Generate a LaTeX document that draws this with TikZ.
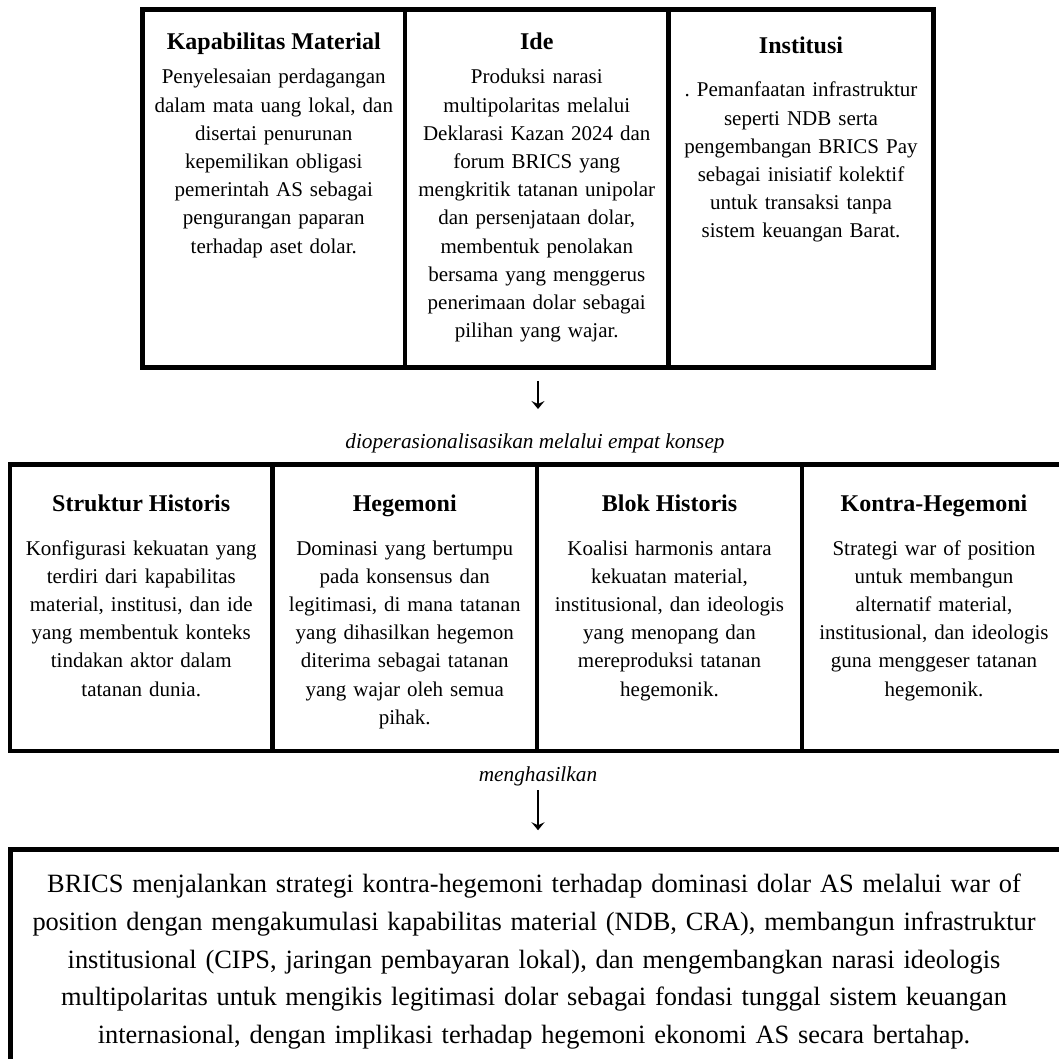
\documentclass[tikz,border=0pt]{standalone}
\usepackage{fontspec}
\setmainfont{Liberation Serif}
\usetikzlibrary{arrows.meta}
\frenchspacing
\begin{document}
\begin{tikzpicture}[x=1pt,y=-1pt,
  cell/.style={draw, line width=4.5pt, inner sep=0pt, minimum height=#1},
  ttl/.style={anchor=base, inner sep=0pt, font=\fontsize{24}{28}\selectfont\bfseries},
  body/.style={anchor=base, inner sep=0pt, text width=300pt, align=center, font=\fontsize{21}{28.2}\selectfont\frenchspacing},
  lab/.style={anchor=base, inner sep=0pt, font=\fontsize{21.3}{24}\selectfont\itshape},
  arr/.style={line width=1.3pt, -{Stealth[length=8pt,width=13pt,inset=3pt]}}]
\useasboundingbox (0,0) rectangle (1059,1059);
\clip (0,0) rectangle (1059,1059);
% top row
\node[cell=358pt, minimum width=262.5pt] (kap) at (273.75,188.5) {};
\node[cell=358pt, minimum width=263.5pt] (ide) at (536.75,188.5) {};
\node[cell=358pt, minimum width=265pt] (ins) at (801,188.5) {};
\node[ttl] (kapt) at (273.75,49.5) {Kapabilitas Material};
\node[body] (kapb) at (273.75,84) {Penyelesaian perdagangan\\ dalam mata uang lokal, dan\\ disertai penurunan\\ kepemilikan obligasi\\ pemerintah AS sebagai\\ pengurangan paparan\\ terhadap aset dolar.};
\node[ttl] (idet) at (536.75,49.5) {Ide};
\node[body] (ideb) at (536.75,84) {Produksi narasi\\ multipolaritas melalui\\ Deklarasi Kazan 2024 dan\\ forum BRICS yang\\ mengkritik tatanan unipolar\\ dan persenjataan dolar,\\ membentuk penolakan\\ bersama yang menggerus\\ penerimaan dolar sebagai\\ pilihan yang wajar.};
\node[ttl] (inst) at (801,53.5) {Institusi};
\node[body] (insb) at (801,97) {. Pemanfaatan infrastruktur\\ seperti NDB serta\\ pengembangan BRICS Pay\\ sebagai inisiatif kolektif\\ untuk transaksi tanpa\\ sistem keuangan Barat.};
% label 1
\node[lab] (lab1) at (535,448) {dioperasionalisasikan melalui empat konsep};
% middle row
\node[cell=286.5pt, minimum width=262.5pt] (sh) at (141.25,607.75) {};
\node[cell=286.5pt, minimum width=264.5pt] (heg) at (404.75,607.75) {};
\node[cell=286.5pt, minimum width=265pt] (bh) at (669.5,607.75) {};
\node[cell=286.5pt, minimum width=264pt] (kh) at (934,607.75) {};
\node[ttl] (sht) at (141.25,511) {Struktur Historis};
\node[body] (shb) at (141.25,555) {Konfigurasi kekuatan yang\\ terdiri dari kapabilitas\\ material, institusi, dan ide\\ yang membentuk konteks\\ tindakan aktor dalam\\ tatanan dunia.};
\node[ttl] (hegt) at (404.75,511) {Hegemoni};
\node[body] (hegb) at (404.75,555) {Dominasi yang bertumpu\\ pada konsensus dan\\ legitimasi, di mana tatanan\\ yang dihasilkan hegemon\\ diterima sebagai tatanan\\ yang wajar oleh semua\\ pihak.};
\node[ttl] (bht) at (669.5,511) {Blok Historis};
\node[body] (bhb) at (669.5,555) {Koalisi harmonis antara\\ kekuatan material,\\ institusional, dan ideologis\\ yang menopang dan\\ mereproduksi tatanan\\ hegemonik.};
\node[ttl] (kht) at (934,511) {Kontra-Hegemoni};
\node[body] (khb) at (934,555) {Strategi war of position\\ untuk membangun\\ alternatif material,\\ institusional, dan ideologis\\ guna menggeser tatanan\\ hegemonik.};
% label 2
\node[lab] (lab2) at (538,781) {menghasilkan};
% bottom box
\node[cell=260pt, minimum width=1060pt] (res) at (540.5,979.5) {};
\node[anchor=base, inner sep=0pt, text width=1040pt, align=center, font=\fontsize{26.4}{37.8}\selectfont\frenchspacing] (resb) at (534,892.5) {BRICS menjalankan strategi kontra-hegemoni terhadap dominasi dolar AS melalui war of\\ position dengan mengakumulasi kapabilitas material (NDB, CRA), membangun infrastruktur\\ institusional (CIPS, jaringan pembayaran lokal), dan mengembangkan narasi ideologis\\ multipolaritas untuk mengikis legitimasi dolar sebagai fondasi tunggal sistem keuangan\\ internasional, dengan implikasi terhadap hegemoni ekonomi AS secara bertahap.};
% arrows
\draw[arr, shorten <=11pt, shorten >=24pt] (ide.south -| 538,0) -- (538,0 |- lab1.north);
\coordinate (a2s) at (538,790);
\draw[arr, shorten >=17pt] (a2s) -- (a2s |- res.north);
\end{tikzpicture}
\end{document}
